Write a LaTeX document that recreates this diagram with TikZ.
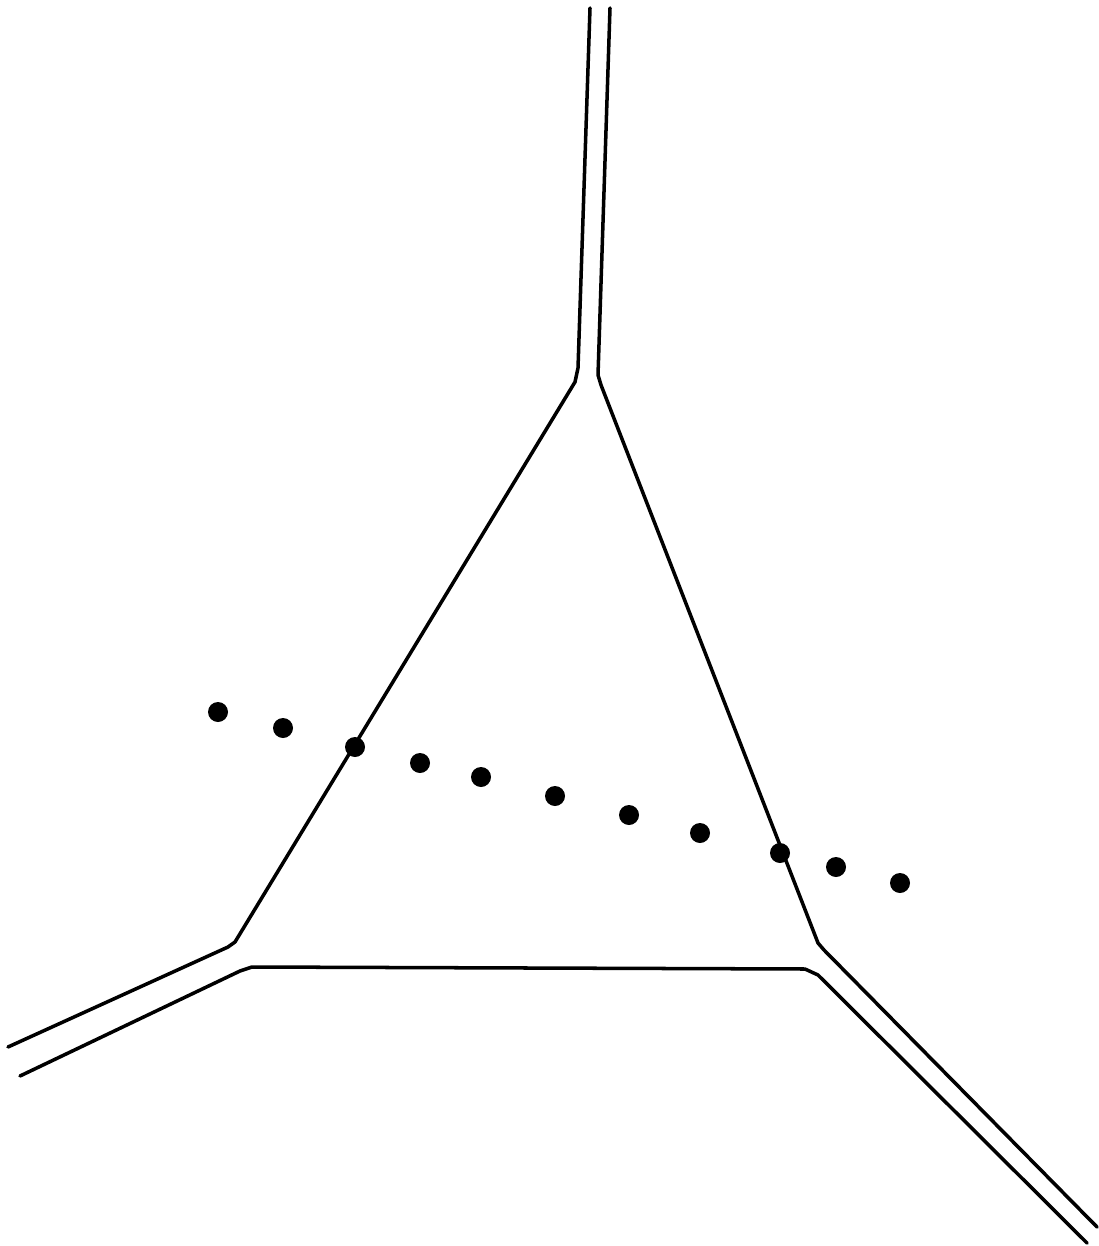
\documentclass[tikz,border=0pt]{standalone}
\usetikzlibrary{calc}

\begin{document}
\begin{tikzpicture}[
  x=0.02cm, y=-0.02cm,
  wall/.style={draw=black, line width=2pt, line join=round, line cap=round},
  bead/.style={fill=black}
]
\useasboundingbox (0,0) rectangle (1098,1246);

% channel walls
\draw[wall] (590,8) -- (578,368) -- (575,382) -- (235,942) -- (228,947) -- (8,1047);
\draw[wall] (610,8) -- (598,375) -- (601,385) -- (818,943) -- (824,950) -- (1097,1227);
\draw[wall] (20,1076) -- (240,971) -- (252,967) -- (805,969) -- (818,975) -- (1087,1243);

% beads
\foreach \px/\py in {218/712, 283/728, 355/747, 420/763, 481/777, 555/796,
                     629/815, 700/833, 780/853, 836/867, 900/883}
  \fill[bead] (\px,\py) circle[radius=10];
\end{tikzpicture}
\end{document}
